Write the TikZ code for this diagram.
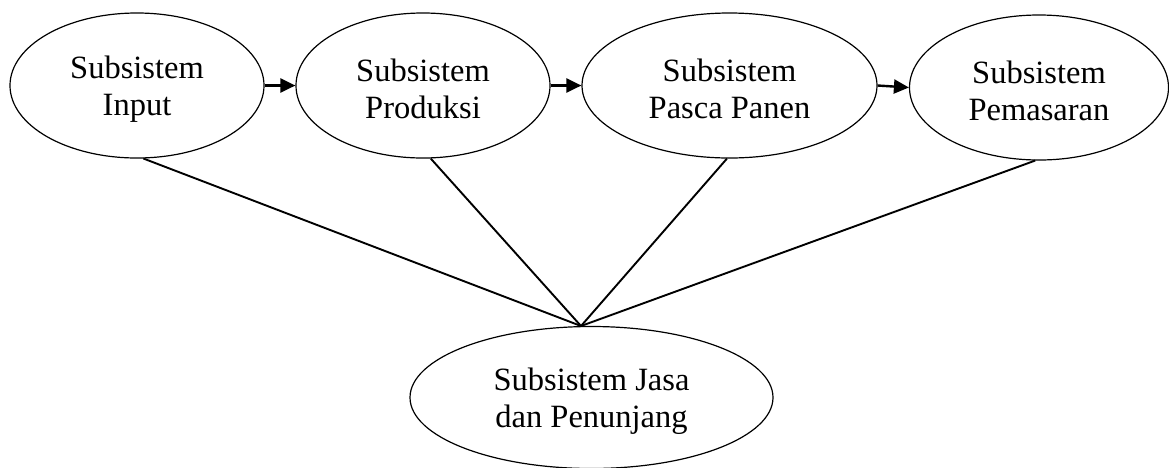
\documentclass[tikz,border=0pt]{standalone}
\usepackage{fontspec}
\setmainfont{Liberation Serif}
\usetikzlibrary{shapes.geometric,arrows.meta}
\newcommand{\topsp}{\rule{0pt}{30pt}}
\begin{document}
\begin{tikzpicture}[x=1pt,y=-1pt,
  sub/.style={draw, ellipse, line width=1.2pt, inner sep=0pt, align=center,
    font=\fontsize{32.5}{37}\selectfont},
  flow/.style={line width=2.4pt, -{Triangle[length=15pt,width=14pt]}},
  link/.style={line width=1.9pt}]
\useasboundingbox (0,0) rectangle (1169,467);
\node[sub, minimum width=254pt, minimum height=145pt] (e1) at (137,85.5) {\topsp Subsistem\\Input};
\node[sub, minimum width=254pt, minimum height=145pt] (e2) at (423,85.5) {\topsp Subsistem\\Produksi};
\node[sub, minimum width=295pt, minimum height=145pt] (e3) at (729.5,85.5) {\topsp Subsistem\\Pasca Panen};
\node[sub, minimum width=259pt, minimum height=145pt] (e4) at (1039,87.5) {\topsp Subsistem\\Pemasaran};
\node[sub, minimum width=363pt, minimum height=142pt] (e5) at (591.5,397.5) {\topsp Subsistem Jasa\\dan Penunjang};
\coordinate (m) at (581,326);
\draw[flow] (e1.east) -- (e2.west);
\draw[flow] (e2.east) -- (e3.west);
\draw[flow] (e3.east) -- (e4.west);
\draw[link] (e1.-85) -- (m);
\draw[link] (e2.-84.5) -- (m);
\draw[link] (e3.-92) -- (m);
\draw[link] (e4.-93.5) -- (m);
\end{tikzpicture}
\end{document}
